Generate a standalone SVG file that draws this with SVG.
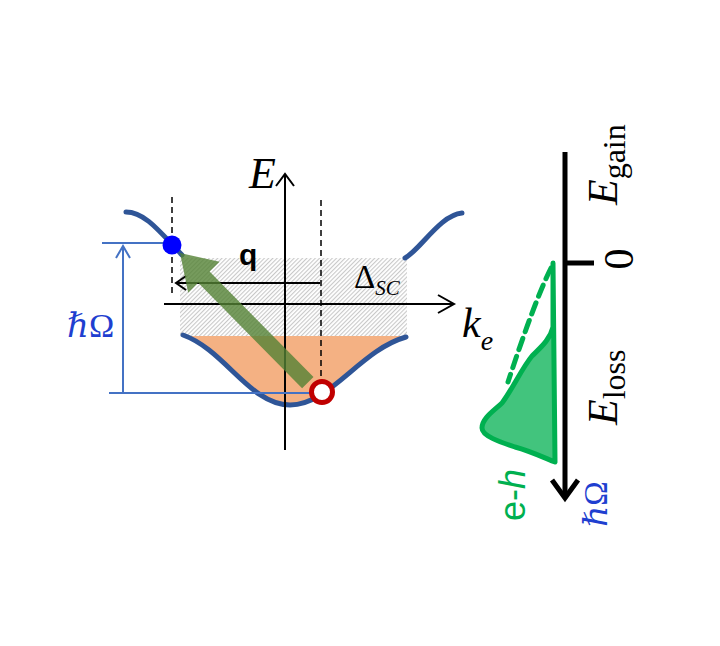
<svg xmlns="http://www.w3.org/2000/svg" width="720" height="646" viewBox="0 0 720 646">
<defs>
<pattern id="hatch" patternUnits="userSpaceOnUse" width="3" height="6" patternTransform="rotate(45)">
<line x1="0.6" y1="0" x2="0.6" y2="6" stroke="#C2C2C2" stroke-width="1"/>
</pattern>
<style>
.ax{stroke:#000;stroke-width:2;fill:none}
.band{stroke:#2F5597;stroke-width:5;fill:none;stroke-linecap:round}
.dash{stroke:#000;stroke-width:1.5;stroke-dasharray:6 4;fill:none}
.bl{stroke:#4472C4;stroke-width:2;fill:none}
.math{font-family:"Liberation Serif","DejaVu Serif",serif;font-style:italic}
.serif{font-family:"Liberation Serif","DejaVu Serif",serif}
.sans{font-family:"Liberation Sans","DejaVu Sans",sans-serif}
.green{stroke:#00B050;stroke-width:5;stroke-linejoin:round;stroke-linecap:round}
</style>
</defs>
<rect width="720" height="646" fill="#fff"/>

<g id="dispersion">
<rect id="gap" x="180" y="258" width="227" height="78" fill="url(#hatch)"/>
<path id="fermi-sea" d="M183,336 L406,336 L406,337 C360,350 330,405 290,405 C250,405 225,350 183,335 Z" fill="#F4B183"/>
<path class="band" d="M183,335 C225,350 250,405 290,405 C330,405 360,350 406,337"/>
<path class="band" d="M126,212 C145,212 160,232 182,255"/>
<path class="band" d="M405,258 C420,250 440,215 462,213"/>
</g>

<g id="connectors">
<line class="dash" x1="172" y1="197" x2="172" y2="297"/>
<line class="dash" x1="321" y1="200" x2="321" y2="380"/>
<line class="ax" x1="285" y1="174" x2="285" y2="450"/>
<polyline class="ax" points="276,186 285,174 294,186"/>
<line class="ax" x1="164" y1="304" x2="454" y2="304"/>
<polyline class="ax" points="438,295 454,304 438,313"/>
<line class="ax" x1="320" y1="283" x2="176" y2="283"/>
<polyline class="ax" points="186,276 176,283 186,290"/>
<line class="bl" x1="102" y1="243" x2="166" y2="243"/>
<line class="bl" x1="109" y1="393" x2="316" y2="393"/>
<line class="bl" x1="123" y1="392" x2="123" y2="246"/>
<polyline class="bl" points="116,258 123,246 130,258"/>
<polygon id="q-arrow" points="0,0 34,-22 34,-8 182,-8 182,8 34,8 34,22" fill="#548235" fill-opacity="0.8" transform="translate(180,253) rotate(45.4)"/>
</g>

<g id="electron"><circle cx="172" cy="245" r="9.5" fill="#0000FF"/></g>
<g id="hole"><circle cx="322" cy="392" r="10.5" fill="#fff" stroke="#C00000" stroke-width="5"/></g>

<g id="labels-left">
<text class="math" x="249" y="188" font-size="44">E</text>
<text class="math" x="462" y="337" font-size="42">k<tspan font-size="28" dy="13">e</tspan></text>
<text class="sans" x="239" y="265" font-size="30" font-weight="bold">q</text>
<text class="serif" x="354" y="288" font-size="33">Δ<tspan class="math" font-size="21" dy="7">SC</tspan></text>
<text class="math" x="67" y="337" font-size="34" fill="#1F3FD0">ℏ<tspan font-style="normal">Ω</tspan></text>
</g>

<g id="spectrum">
<path class="green" d="M553,263 L553,327 C550,340 540,348 532,356 C522,368 512,390 502,403 C495,410 482,418 482,428 C482,436 500,442 515,447 C530,451 545,458 555,462 Z" fill="#00B050" fill-opacity="0.74"/>
<path class="green" d="M551,268 Q535,300 508,382" fill="none" stroke-dasharray="12 7" stroke-linecap="butt"/>
<line x1="565" y1="152" x2="565" y2="498" stroke="#000" stroke-width="5"/>
<polyline points="552,480 565,498 578,480" fill="none" stroke="#000" stroke-width="5"/>
<line x1="565" y1="263" x2="594" y2="263" stroke="#000" stroke-width="5"/>
</g>

<g id="labels-right">
<text class="math" font-size="42" transform="translate(617,205) rotate(-90)">E<tspan class="serif" font-style="normal" font-size="32" dy="8">gain</tspan></text>
<text class="serif" font-size="42" text-anchor="middle" transform="translate(633,259) rotate(-90)">0</text>
<text class="math" font-size="42" transform="translate(617,425) rotate(-90)">E<tspan class="serif" font-style="normal" font-size="32" dy="8">loss</tspan></text>
<text class="math" font-size="33" fill="#1F3FD0" transform="translate(607,527) rotate(-90)">ℏ<tspan font-style="normal">Ω</tspan></text>
<text class="sans" font-size="36" fill="#00B050" transform="translate(525,521) rotate(-90)">e-<tspan font-style="italic">h</tspan></text>
</g>
</svg>
